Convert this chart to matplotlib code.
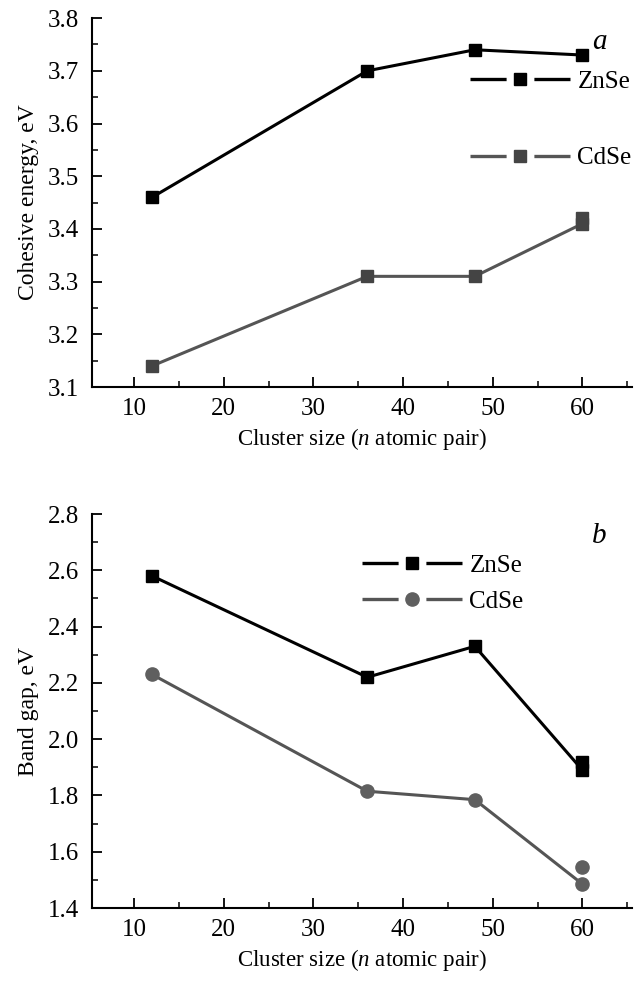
import matplotlib
matplotlib.use("Agg")
from matplotlib import pyplot as plt
from matplotlib.ticker import MultipleLocator, FormatStrFormatter
from matplotlib.lines import Line2D

plt.rcParams['font.family'] = ['Liberation Serif', 'DejaVu Serif']
plt.rcParams['mathtext.fontset'] = 'custom'
plt.rcParams['mathtext.rm'] = 'Liberation Serif'
plt.rcParams['mathtext.it'] = 'Liberation Serif:italic'
plt.rcParams['font.size'] = 17
plt.rcParams['lines.scale_dashes'] = False

# Donnees
sizes = [12, 36, 48, 60]

coh_znse = [3.46, 3.70, 3.74, 3.73]
coh_cdse = [3.14, 3.31, 3.31, 3.41]
coh_cdse_extra = [3.42]          # second point a n = 60

gap_znse = [2.58, 2.22, 2.33, 1.89]
gap_znse_extra = [1.92]
gap_cdse = [2.23, 1.815, 1.785, 1.485]
gap_cdse_extra = [1.545]
extra_size = [60]

BLACK = "#000000"
GREY_SQ = "#444444"
GREY_LN = "#555555"
GREY_CI = "#5f5f5f"

fig = plt.figure(figsize=(6.38, 9.81), dpi=100)

def style(ax, ylo, yhi, ymaj, ymin):
  ax.spines['top'].set_visible(False)
  ax.spines['right'].set_visible(False)
  for s in ('left', 'bottom'):
    ax.spines[s].set_linewidth(1.5)
  ax.set_xlim(5.3, 65.5)
  ax.set_ylim(ylo, yhi)
  ax.xaxis.set_major_locator(MultipleLocator(10))
  ax.xaxis.set_minor_locator(MultipleLocator(5))
  ax.yaxis.set_major_locator(MultipleLocator(ymaj))
  ax.yaxis.set_minor_locator(MultipleLocator(ymin))
  ax.yaxis.set_major_formatter(FormatStrFormatter('%.1f'))
  ax.tick_params(which='major', direction='in', length=7, width=1.3, labelsize=18)
  ax.tick_params(axis='y', which='major', pad=9)
  ax.tick_params(axis='x', which='major', pad=8)
  ax.tick_params(which='minor', direction='in', length=4, width=1.1)
  ax.set_xlabel('Cluster size ($\\mathit{n}$ atomic pair)', fontsize=16.5, labelpad=4)

# poignees de legende : trait - symbole - trait
def handle(color, marker, mcol, ms):
  return Line2D([], [], color=color, lw=2.4, ls=(0, (26, 20)), marker=marker,
                ms=ms, mfc=mcol, mec=mcol)

# --- panneau a
ax1 = fig.add_axes([0.1442, 0.6055, 0.846, 0.376])
ax1.plot(sizes, coh_znse, color=BLACK, lw=2.2, marker='s', ms=8.5)
ax1.plot(sizes, coh_cdse, color=GREY_LN, lw=2.2, marker='s', ms=8.5,
         mfc=GREY_SQ, mec=GREY_SQ)
ax1.plot(extra_size, coh_cdse_extra, ls='none', marker='s', ms=8.5, mfc=GREY_SQ, mec=GREY_SQ)
style(ax1, 3.1, 3.8, 0.1, 0.05)
ax1.set_ylabel('Cohesive energy, eV', fontsize=17, labelpad=7)
ax1.legend([handle(BLACK, 's', BLACK, 8.5), handle(GREY_LN, 's', GREY_SQ, 8.5)],
           ['ZnSe', 'CdSe'], loc='upper left', bbox_to_anchor=(0.70, 0.858),
           frameon=False, handlelength=4.0, handletextpad=0.3, labelspacing=2.15,
           borderpad=0, borderaxespad=0, fontsize=18)
ax1.text(0.94, 0.935, 'a', transform=ax1.transAxes, fontsize=21, style='italic',
         ha='center', va='center')

# --- panneau b
ax2 = fig.add_axes([0.1442, 0.0744, 0.846, 0.4016])
ax2.plot(sizes, gap_znse, color=BLACK, lw=2.2, marker='s', ms=8.5)
ax2.plot(extra_size, gap_znse_extra, ls='none', marker='s', ms=8.5, color=BLACK)
ax2.plot(sizes, gap_cdse, color=GREY_LN, lw=2.2, marker='o', ms=9.5,
         mfc=GREY_CI, mec=GREY_CI)
ax2.plot(extra_size, gap_cdse_extra, ls='none', marker='o', ms=9.5, mfc=GREY_CI, mec=GREY_CI)
style(ax2, 1.4, 2.8, 0.2, 0.1)
ax2.set_ylabel('Band gap, eV', fontsize=17, labelpad=7)
ax2.legend([handle(BLACK, 's', BLACK, 8.5), handle(GREY_LN, 'o', GREY_CI, 9.5)],
           ['ZnSe', 'CdSe'], loc='upper left', bbox_to_anchor=(0.50, 0.898),
           frameon=False, handlelength=4.0, handletextpad=0.3, labelspacing=0.55,
           borderpad=0, borderaxespad=0, fontsize=18)
ax2.text(0.94, 0.945, 'b', transform=ax2.transAxes, fontsize=21, style='italic',
         ha='center', va='center')

fig.savefig('out.png', dpi=100)
